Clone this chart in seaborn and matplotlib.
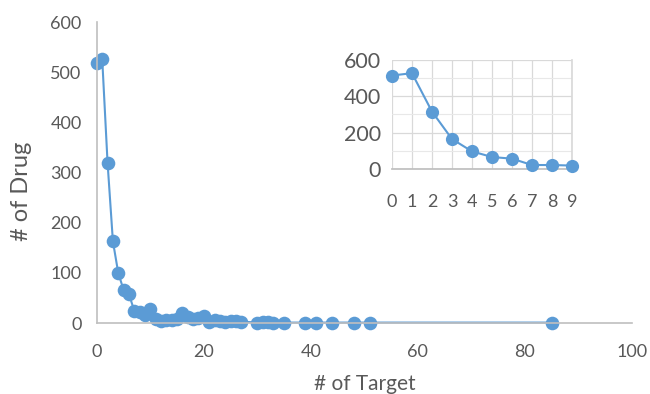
import matplotlib
matplotlib.use("Agg")
import matplotlib.pyplot as plt
import seaborn as sns
import pandas as pd

n_target = [0, 1, 2, 3, 4, 5, 6, 7, 8, 9, 10, 11, 12, 13, 14, 15, 16, 17, 18, 19, 20,
            21, 22, 23, 24, 25, 26, 27, 30, 31, 32, 33, 35, 39, 41, 44, 48, 51, 85]
n_drug = [518, 527, 320, 163, 100, 66, 58, 24, 22, 16, 28, 8, 4, 6, 7, 9, 20, 12, 8, 10, 14,
          3, 7, 5, 2, 5, 4, 3, 1, 2, 3, 1, 1, 1, 1, 1, 1, 1, 1]

inset_x = [0, 1, 2, 3, 4, 5, 6, 7, 8, 9]
inset_y = [514, 527, 316, 165, 97, 66, 57, 22, 22, 19]

main_df = pd.DataFrame({"target": n_target, "drug": n_drug})
inset_df = pd.DataFrame({"target": inset_x, "drug": inset_y})

sns.set_theme(style="white")
plt.rcParams["font.family"] = ["Lato", "DejaVu Sans"]
txt = "#595959"
blue = "#5B9BD5"
spine = "#BFBFBF"

fig = plt.figure(figsize=(6.5, 3.94), dpi=100)
ax = fig.add_axes([0.149, 0.180, 0.823, 0.764])
sns.lineplot(data=main_df, x="target", y="drug", ax=ax, color=blue, marker="o",
             markersize=9.8, markeredgewidth=0, linewidth=1.5, clip_on=False)
ax.set_xlim(0, 100)
ax.set_ylim(0, 600)
ax.set_xticks(range(0, 101, 20))
ax.set_yticks(range(0, 601, 100))
ax.tick_params(axis="y", labelsize=13, colors=txt, length=0, pad=11)
ax.tick_params(axis="x", labelsize=13, colors=txt, length=0, pad=15)
for s in ["top", "right"]:
    ax.spines[s].set_visible(False)
for s in ["left", "bottom"]:
    ax.spines[s].set_color(spine)
    ax.spines[s].set_linewidth(1.2)
ax.set_xlabel("# of Target", fontsize=15, color=txt)
ax.set_ylabel("# of Drug", fontsize=17, color=txt)
ax.xaxis.set_label_coords(0.5, -0.17)
ax.yaxis.set_label_coords(-0.121, 0.437)

ins = fig.add_axes([0.603, 0.571, 0.277, 0.277])
sns.lineplot(data=inset_df, x="target", y="drug", ax=ins, color=blue, marker="o",
             markersize=9.5, markeredgewidth=0, linewidth=1.5, clip_on=False, zorder=5)
ins.set_xlim(0, 9)
ins.set_ylim(0, 600)
ins.set_xticks(range(0, 10))
ins.set_yticks(range(0, 601, 200))
ins.set_yticks(range(100, 600, 200), minor=True)
ins.grid(True, which="major", color="#D9D9D9", linewidth=0.9)
ins.grid(True, which="minor", axis="y", color="#E8E8E8", linewidth=0.8)
ins.tick_params(axis="x", which="both", labelsize=13, colors=txt, length=0, pad=18)
ins.tick_params(axis="y", which="both", labelsize=15.5, colors=txt, length=0, pad=8)
ins.set_facecolor("white")
for s in ["top", "left"]:
    ins.spines[s].set_visible(False)
ins.spines["right"].set_color("#D9D9D9")
ins.spines["bottom"].set_color(spine)
ins.set_xlabel("")
ins.set_ylabel("")

fig.savefig("out.png", dpi=100)
